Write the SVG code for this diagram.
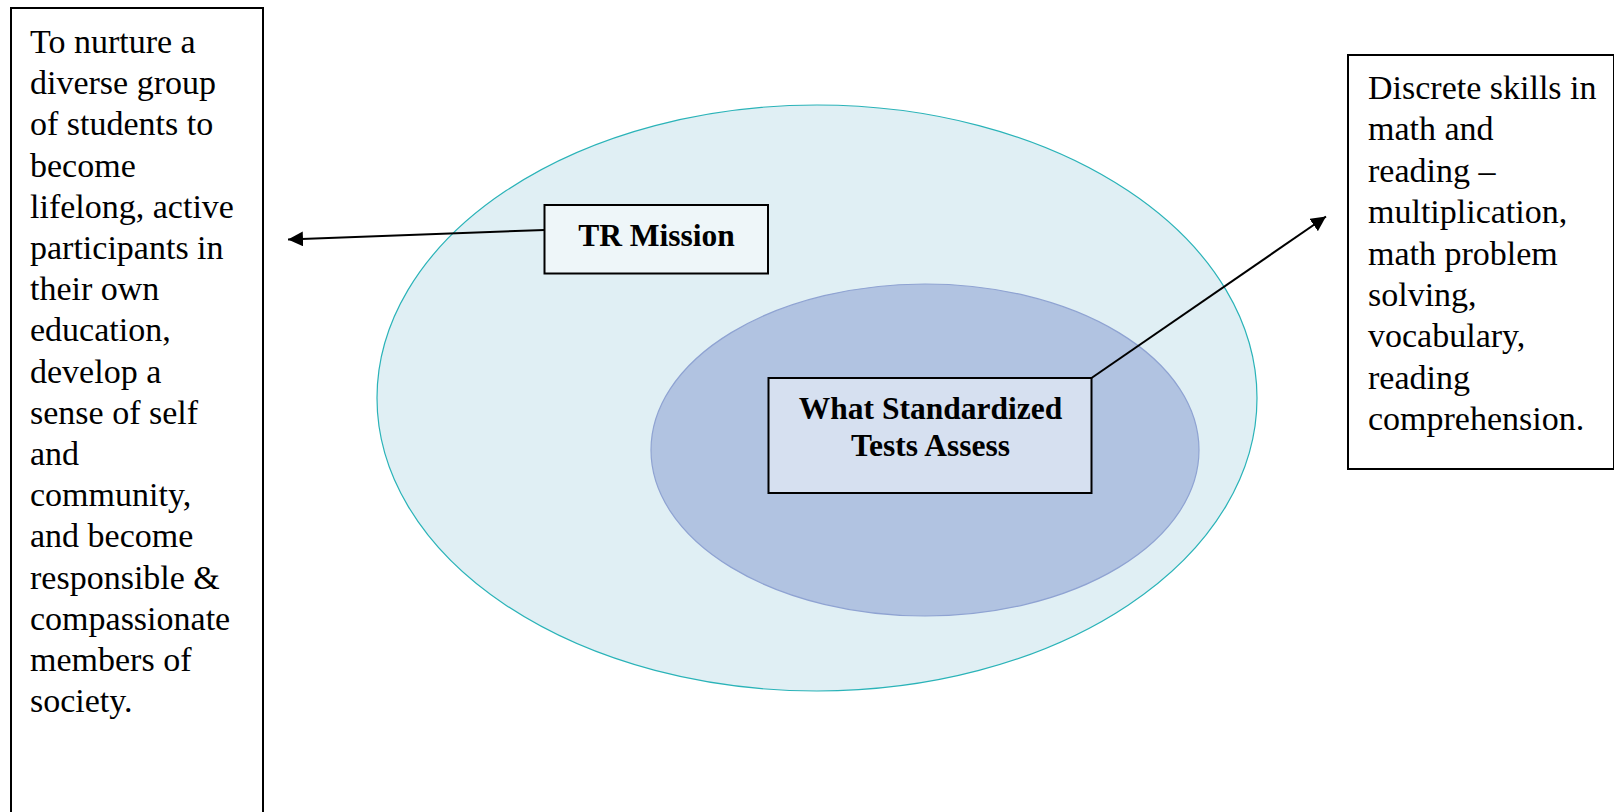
<svg xmlns="http://www.w3.org/2000/svg" width="1614" height="812" viewBox="0 0 1614 812">
  <style>
    .box { stroke: #000; stroke-width: 2; }
    .body { font-family: "Liberation Serif", "Times New Roman", serif; font-size: 34px; fill: #000; }
    .label { font-family: "Liberation Serif", "Times New Roman", serif; font-size: 31.5px; font-weight: bold; fill: #000; text-anchor: middle; }
    .conn { stroke: #000; stroke-width: 2; fill: none; marker-end: url(#arrow); }
  </style>
  <defs>
    <marker id="arrow" viewBox="0 0 10 10" refX="10" refY="5" markerWidth="7.5" markerHeight="7.5" markerUnits="strokeWidth" orient="auto">
      <path d="M0,0 L10,5 L0,10 Z" fill="#000"/>
    </marker>
  </defs>

  <rect width="1614" height="812" fill="#fff"/>

  <!-- outer scope: the mission -->
  <g id="outer-ellipse">
    <ellipse cx="817" cy="398" rx="440" ry="293" fill="#e0eff4" stroke="#2ab3b8" stroke-width="1.2"/>
  </g>

  <!-- inner scope: what the tests cover -->
  <g id="inner-ellipse">
    <ellipse cx="925" cy="450" rx="274" ry="166" fill="#b1c3e1" stroke="#8fa3d2" stroke-width="1.2"/>
  </g>

  <g id="mission-text">
    <rect class="box" x="11" y="8" width="252" height="830" fill="#fff"/>
    <text class="body" x="30" y="53">
      <tspan x="30" y="53">To nurture a</tspan>
      <tspan x="30" dy="41.2">diverse group</tspan>
      <tspan x="30" dy="41.2">of students to</tspan>
      <tspan x="30" dy="41.2">become</tspan>
      <tspan x="30" dy="41.2">lifelong, active</tspan>
      <tspan x="30" dy="41.2">participants in</tspan>
      <tspan x="30" dy="41.2">their own</tspan>
      <tspan x="30" dy="41.2">education,</tspan>
      <tspan x="30" dy="41.2">develop a</tspan>
      <tspan x="30" dy="41.2">sense of self</tspan>
      <tspan x="30" dy="41.2">and</tspan>
      <tspan x="30" dy="41.2">community,</tspan>
      <tspan x="30" dy="41.2">and become</tspan>
      <tspan x="30" dy="41.2">responsible &amp;</tspan>
      <tspan x="30" dy="41.2">compassionate</tspan>
      <tspan x="30" dy="41.2">members of</tspan>
      <tspan x="30" dy="41.2">society.</tspan>
    </text>
  </g>

  <g id="skills-text">
    <rect class="box" x="1348" y="55" width="266" height="414" fill="#fff"/>
    <text class="body" x="1368" y="99">
      <tspan x="1368" y="99">Discrete skills in</tspan>
      <tspan x="1368" dy="41.4">math and</tspan>
      <tspan x="1368" dy="41.4">reading –</tspan>
      <tspan x="1368" dy="41.4">multiplication,</tspan>
      <tspan x="1368" dy="41.4">math problem</tspan>
      <tspan x="1368" dy="41.4">solving,</tspan>
      <tspan x="1368" dy="41.4">vocabulary,</tspan>
      <tspan x="1368" dy="41.4">reading</tspan>
      <tspan x="1368" dy="41.4">comprehension.</tspan>
    </text>
  </g>

  <g id="tr-mission">
    <rect class="box" x="544.5" y="205" width="223.5" height="68.5" fill="#eef6f9"/>
    <text class="label" x="656.5" y="246">TR Mission</text>
  </g>

  <g id="tests-assess">
    <rect class="box" x="768.5" y="378" width="323" height="115" fill="#d6e0f0"/>
    <text class="label" x="930.5" y="419">What Standardized</text>
    <text class="label" x="930.5" y="456">Tests Assess</text>
  </g>

  <g id="connectors">
    <line class="conn" x1="544.5" y1="230" x2="288" y2="239.5"/>
    <line class="conn" x1="1091.5" y1="378" x2="1326" y2="216.5"/>
  </g>
</svg>
